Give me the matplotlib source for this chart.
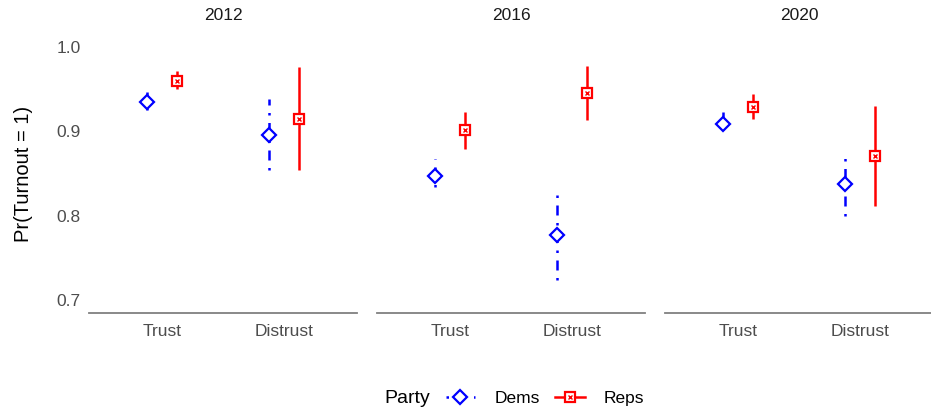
import matplotlib.pyplot as plt
from matplotlib.lines import Line2D

plt.rcParams['font.family'] = ['Liberation Sans', 'DejaVu Sans']

years = ['2012', '2016', '2020']
groups = ['Trust', 'Distrust']

# point estimates and 95% intervals, [trust, distrust] per year
dems_est = {'2012': [0.935, 0.896], '2016': [0.847, 0.777], '2020': [0.909, 0.838]}
dems_lo = {'2012': [0.925, 0.854], '2016': [0.834, 0.724], '2020': [0.902, 0.800]}
dems_hi = {'2012': [0.946, 0.938], '2016': [0.867, 0.830], '2020': [0.923, 0.875]}

reps_est = {'2012': [0.960, 0.915], '2016': [0.901, 0.945], '2020': [0.929, 0.871]}
reps_lo = {'2012': [0.950, 0.854], '2016': [0.879, 0.913], '2020': [0.914, 0.812]}
reps_hi = {'2012': [0.971, 0.976], '2016': [0.923, 0.977], '2020': [0.944, 0.930]}

BLUE = '#0000FF'
RED = '#FF0000'
dotdash = (0, (1, 3, 4, 3))
lw = 1.8
dodge = 0.125

W, H = 931, 411
fig = plt.figure(figsize=(W / 100, H / 100), dpi=100)

for i, yr in enumerate(years):
    x0 = 89 + i * 288
    ax = fig.add_axes([x0 / W, (H - 313) / H, 268 / W, 279 / H])
    xs = [1, 2]
    for j in range(2):
        xd = xs[j] - dodge
        xr = xs[j] + dodge
        ax.plot([xd, xd], [dems_lo[yr][j], dems_hi[yr][j]], color=BLUE, lw=lw,
                ls=dotdash, solid_capstyle='butt', dash_capstyle='butt')
        ax.plot([xd], [dems_est[yr][j]], marker='D', ms=7, mfc='white', mec=BLUE,
                mew=1.6, ls='none')
        ax.plot([xr, xr], [reps_lo[yr][j], reps_hi[yr][j]], color=RED, lw=lw,
                solid_capstyle='butt')
        ax.plot([xr], [reps_est[yr][j]], marker='s', ms=7, mfc='white', mec=RED,
                mew=1.6, ls='none')
        ax.plot([xr], [reps_est[yr][j]], marker='x', ms=3.5, mec=RED, mew=1.0, ls='none')

    ax.set_xlim(0.4, 2.6)
    ax.set_ylim(0.685, 1.015)
    ax.set_xticks(xs)
    ax.set_xticklabels(groups)
    ax.set_yticks([0.7, 0.8, 0.9, 1.0])
    ax.tick_params(length=0, labelsize=12.5, labelcolor='#4d4d4d', pad=8)
    ax.tick_params(axis='y', pad=6)
    if i == 0:
        ax.set_yticklabels(['0.7', '0.8', '0.9', '1.0'])
        ax.set_ylabel('Pr(Turnout = 1)', fontsize=14.5, color='black', labelpad=17)
    else:
        ax.set_yticklabels([])
    for s in ['top', 'right', 'left']:
        ax.spines[s].set_visible(False)
    ax.spines['bottom'].set_color('#808080')
    ax.spines['bottom'].set_linewidth(1.3)
    ax.set_title(yr, fontsize=12.5, color='#1a1a1a', pad=10)

# legend
fig.text(384 / W, 1 - 398 / H, 'Party', fontsize=14, va='center', ha='left')
h_dems = Line2D([], [], color=BLUE, lw=lw, ls=dotdash, marker='D', ms=7,
                mfc='white', mec=BLUE, mew=1.6)
h_reps = (Line2D([], [], color=RED, lw=lw, marker='s', ms=7, mfc='white',
                 mec=RED, mew=1.6),
          Line2D([], [], ls='none', marker='x', ms=3.5, mec=RED, mew=1.0))
fig.legend([h_dems, h_reps], ['Dems', 'Reps'], loc='center left',
           bbox_to_anchor=(430 / W, 1 - 398 / H), ncol=2, frameon=False,
           fontsize=12.5, handlelength=1.7, columnspacing=0.9, handletextpad=1.1)

fig.savefig('out.png', dpi=100)
